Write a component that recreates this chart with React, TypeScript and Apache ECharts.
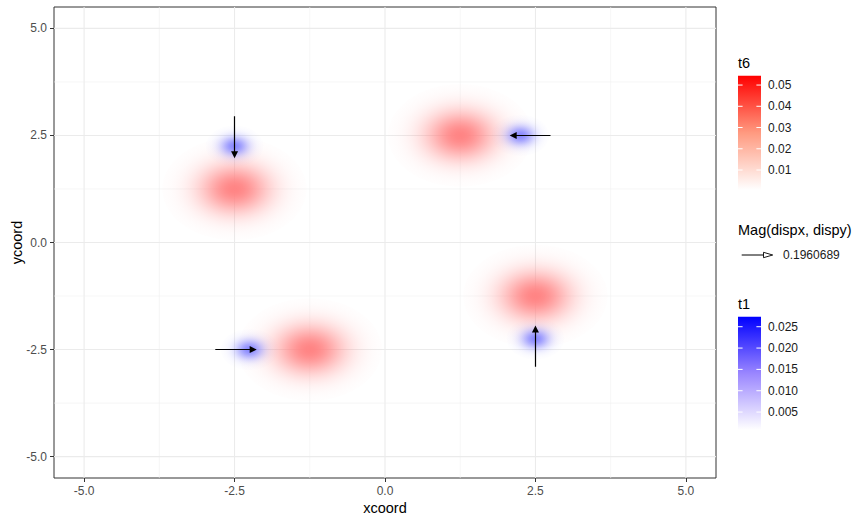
import React, { useEffect, useRef } from "react";
import * as echarts from "echarts";

// ---------- data ----------
const xLimits = [-5.5, 5.5];
const yLimits = [-5.5, 5.5];
const majorBreaks = [-5, -2.5, 0, 2.5, 5];
const minorBreaks = [-3.75, -1.25, 1.25, 3.75];

// t6 field (red): blob centres, peak values, spread (data units)
const t6BlobX = [-2.5, 1.25, -1.25, 2.5];
const t6BlobY = [1.25, 2.5, -2.5, -1.25];
const t6BlobPeak = [0.0262, 0.0262, 0.0262, 0.0262];
const t6BlobSpread = [0.4, 0.4, 0.4, 0.4];

// t1 field (blue)
const t1BlobX = [-2.5, 2.25, -2.25, 2.5];
const t1BlobY = [2.25, 2.5, -2.5, -2.25];
const t1BlobPeak = [0.0125, 0.0125, 0.0125, 0.0125];
const t1BlobSpread = [0.16, 0.16, 0.16, 0.16];

// displacement arrows (start -> end)
const arrowX0 = [-2.5, 2.75, -2.82, 2.5];
const arrowY0 = [2.95, 2.5, -2.5, -2.9];
const arrowX1 = [-2.5, 2.13, -2.19, 2.5];
const arrowY1 = [2.05, 2.5, -2.5, -2.02];

// legends
const t6Title = "t6";
const t6Limits = [0.0006, 0.0544];
const t6Ticks = [0.01, 0.02, 0.03, 0.04, 0.05];
const t1Title = "t1";
const t1Limits = [0.0008, 0.02735];
const t1Ticks = [0.005, 0.01, 0.015, 0.02, 0.025];
const magTitle = "Mag(dispx, dispy)";
const magLabel = "0.1960689";

// ---------- styles ----------
const FONT = "'Liberation Sans', Arial, Helvetica, sans-serif";
const W = 866;
const H = 523;

function blobData(xs: number[], ys: number[], peaks: number[], spreads: number[]) {
  return xs.map((x, i) => [x, ys[i], peaks[i], spreads[i]]);
}

function makeBlobRenderer(base: number[], maxVal: number) {
  return (params: any, api: any) => {
    const c = api.coord([api.value(0), api.value(1)]);
    const sigma = api.value(3);
    const s = api.size([sigma, sigma]);
    const R = 3;
    const rx = s[0] * R;
    const ry = s[1] * R;
    const a = api.value(2) / maxVal;
    const col = base.map((b) => Math.round(255 * (1 - a) + b * a)).join(",");
    const stops = [];
    const N = 16;
    for (let k = 0; k <= N; k++) {
      const t = k / N;
      const d = t * R;
      const alpha = Math.exp((-d * d) / 2);
      stops.push({ offset: t, color: `rgba(${col},${alpha.toFixed(4)})` });
    }
    return {
      type: "circle",
      x: c[0],
      y: c[1],
      scaleX: rx / ry,
      scaleY: 1,
      shape: { cx: 0, cy: 0, r: ry },
      style: {
        fill: { type: "radial", x: 0.5, y: 0.5, r: 0.5, colorStops: stops },
      },
    };
  };
}

function colorbar(
  title: string,
  limits: number[],
  ticks: number[],
  digits: number,
  top: number,
  height: number,
  stops: any[]
) {
  const left = 738;
  const bw = 23;
  const els: any[] = [];
  els.push({
    type: "text",
    x: left,
    y: top - 13,
    style: { text: title, font: `14.5px ${FONT}`, fill: "#000", verticalAlign: "middle", align: "left" },
  });
  els.push({
    type: "rect",
    shape: { x: left, y: top, width: bw, height },
    style: {
      fill: { type: "linear", x: 0, y: 0, x2: 0, y2: 1, colorStops: stops },
    },
  });
  ticks.forEach((v) => {
    const y = top + height - ((v - limits[0]) / (limits[1] - limits[0])) * height;
    els.push({
      type: "line",
      shape: { x1: left, y1: y, x2: left + bw / 5, y2: y },
      style: { stroke: "#fff", lineWidth: 1 },
    });
    els.push({
      type: "line",
      shape: { x1: left + bw - bw / 5, y1: y, x2: left + bw, y2: y },
      style: { stroke: "#fff", lineWidth: 1 },
    });
    els.push({
      type: "text",
      x: left + 30,
      y,
      style: { text: v.toFixed(digits), font: `12px ${FONT}`, fill: "#1a1a1a", verticalAlign: "middle", align: "left" },
    });
  });
  return els;
}

export default function App() {
  const ref = useRef<HTMLDivElement>(null);

  useEffect(() => {
    if (!ref.current) return;
    const chart = echarts.init(ref.current, undefined, { renderer: "svg" });

    const gridData: number[][] = [];
    majorBreaks.forEach((v) => gridData.push([v, 0, 1]));
    minorBreaks.forEach((v) => gridData.push([v, 0, 0]));
    majorBreaks.forEach((v) => gridData.push([v, 1, 1]));
    minorBreaks.forEach((v) => gridData.push([v, 1, 0]));

    const legendEls = [
      ...colorbar(t6Title, t6Limits, t6Ticks, 2, 75.7, 114.3, [
        { offset: 0, color: "#FF0000" },
        { offset: 0.5, color: "#FF9A80" },
        { offset: 1, color: "#FFFFFF" },
      ]),
      {
        type: "text",
        x: 738,
        y: 230,
        style: { text: magTitle, font: `14.5px ${FONT}`, fill: "#000", verticalAlign: "middle", align: "left" },
      },
      {
        type: "line",
        shape: { x1: 741.7, y1: 255, x2: 764, y2: 255 },
        style: { stroke: "#000", lineWidth: 1 },
      },
      {
        type: "polygon",
        shape: { points: [[763.5, 252.3], [772.7, 255], [763.5, 257.7]] },
        style: { fill: "#fff", stroke: "#000", lineWidth: 0.9 },
      },
      {
        type: "text",
        x: 783,
        y: 255,
        style: { text: magLabel, font: `12px ${FONT}`, fill: "#1a1a1a", verticalAlign: "middle", align: "left" },
      },
      ...colorbar(t1Title, t1Limits, t1Ticks, 3, 316.7, 113.3, [
        { offset: 0, color: "#0000FF" },
        { offset: 0.5, color: "#9A86FF" },
        { offset: 1, color: "#FFFFFF" },
      ]),
    ];

    const axisCommon = (name: string, gap: number, limits: number[]) => ({
      type: "value",
      min: limits[0],
      max: limits[1],
      axisLine: { show: false, onZero: false },
      splitLine: { show: false },
      axisTick: {
        show: true,
        customValues: majorBreaks,
        length: 4,
        lineStyle: { color: "#333333", width: 1 },
      },
      axisLabel: {
        customValues: majorBreaks,
        formatter: (v: number) => v.toFixed(1),
        color: "#4D4D4D",
        fontSize: 12,
        fontFamily: FONT,
        margin: 7,
      },
      name,
      nameLocation: "middle",
      nameGap: gap,
      nameMoveOverlap: false,
      nameTextStyle: { fontSize: 14.5, color: "#000", fontFamily: FONT },
    });

    chart.setOption({
      animation: false,
      backgroundColor: "#ffffff",
      textStyle: { fontFamily: FONT },
      grid: {
        left: 54,
        right: W - 716,
        top: 7,
        bottom: H - 478,
        show: true,
        borderColor: "#333333",
        borderWidth: 1,
        backgroundColor: "transparent",
        outerBoundsMode: "none",
      },
      xAxis: axisCommon("xcoord", 22, xLimits),
      yAxis: axisCommon("ycoord", 30, yLimits),
      graphic: legendEls,
      series: [
        {
          type: "custom",
          name: "grid",
          silent: true,
          z: 1,
          data: gridData,
          encode: { x: 0, y: 1 },
          renderItem: (params: any, api: any) => {
            const v = api.value(0);
            const horiz = api.value(1) === 1;
            const major = api.value(2) === 1;
            const p1 = horiz ? api.coord([xLimits[0], v]) : api.coord([v, yLimits[0]]);
            const p2 = horiz ? api.coord([xLimits[1], v]) : api.coord([v, yLimits[1]]);
            return {
              type: "line",
              shape: { x1: p1[0], y1: p1[1], x2: p2[0], y2: p2[1] },
              style: { stroke: major ? "#EBEBEB" : "#F0F0F0", lineWidth: major ? 1.07 : 0.6 },
            };
          },
        },
        {
          type: "custom",
          name: "t6",
          silent: true,
          z: 2,
          data: blobData(t6BlobX, t6BlobY, t6BlobPeak, t6BlobSpread),
          encode: { x: 0, y: 1 },
          renderItem: makeBlobRenderer([255, 0, 0], t6Limits[1]),
        },
        {
          type: "custom",
          name: "t1",
          silent: true,
          z: 3,
          data: blobData(t1BlobX, t1BlobY, t1BlobPeak, t1BlobSpread),
          encode: { x: 0, y: 1 },
          renderItem: makeBlobRenderer([0, 0, 255], t1Limits[1]),
        },
        {
          type: "lines",
          coordinateSystem: "cartesian2d",
          silent: true,
          z: 4,
          symbol: ["none", "triangle"],
          symbolSize: [5, 7],
          lineStyle: { color: "#000", width: 1.2, opacity: 1 },
          itemStyle: { color: "#000" },
          data: arrowX0.map((x, i) => ({
            coords: [
              [x, arrowY0[i]],
              [arrowX1[i], arrowY1[i]],
            ],
          })),
        },
      ],
    });

    return () => chart.dispose();
  }, []);

  return (
    <div
      ref={ref}
      style={{ position: "fixed", left: 0, top: 0, width: W, height: H, background: "#fff" }}
    />
  );
}
